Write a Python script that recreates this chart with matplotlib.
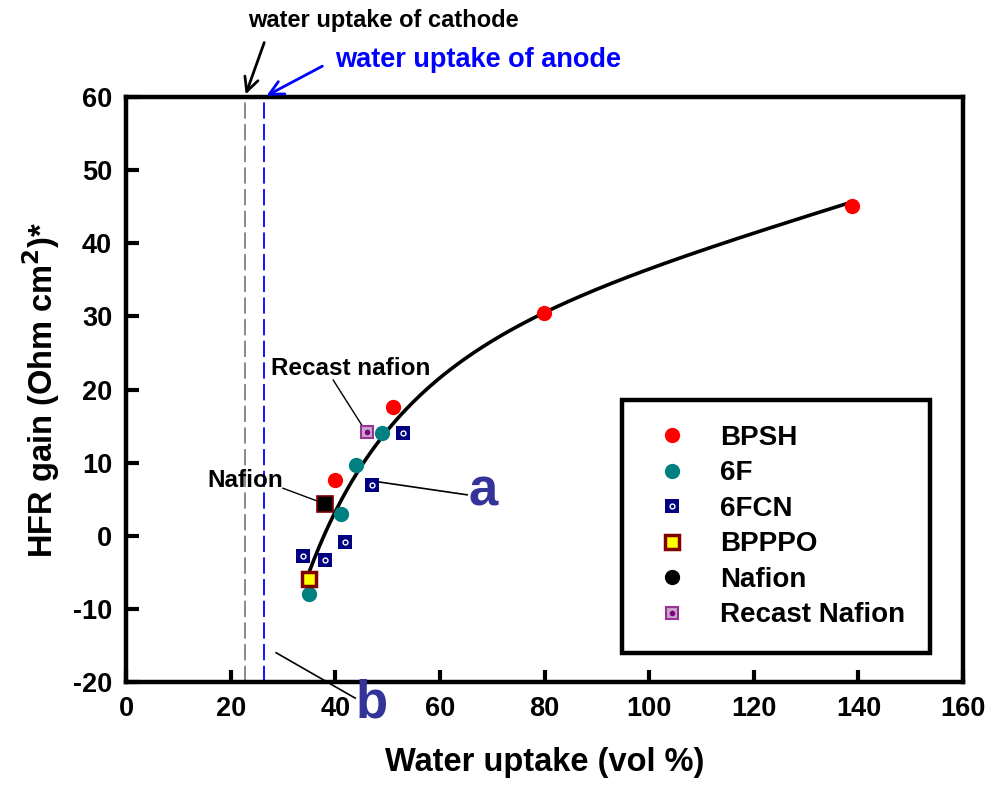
import matplotlib

matplotlib.use("Agg")
import matplotlib.pyplot as plt
import numpy as np
from matplotlib.lines import Line2D
from matplotlib.legend_handler import HandlerTuple

plt.rcParams["font.family"] = ["Liberation Sans", "DejaVu Sans"]
plt.rcParams["font.weight"] = "bold"
plt.rcParams["axes.unicode_minus"] = False

# data
bpsh_x = [51.0, 40.0, 79.9, 138.8]
bpsh_y = [17.6, 7.6, 30.5, 45.1]
f6_x = [48.9, 44.0, 41.1, 35.0]
f6_y = [14.1, 9.7, 3.0, -8.0]
f6cn_x = [53.0, 47.0, 41.9, 33.8, 38.0]
f6cn_y = [14.1, 6.9, -0.9, -2.8, -3.3]
bpppo_x = [35.0]
bpppo_y = [-5.9]
nafion_x = [38.0]
nafion_y = [4.3]
recast_x = [46.0]
recast_y = [14.2]

# trend curve
fit_x = [34.9, 38.4, 41.5, 44.7, 49.2, 52.4, 58.7, 65.1, 71.5, 77.9,
         80.4, 91.9, 104.6, 117.4, 130.1, 138.8]
fit_y = [-5.6, 1.3, 5.4, 9.5, 13.6, 16.5, 20.8, 24.3, 27.2, 29.5,
         30.4, 34.3, 38.0, 41.1, 43.9, 45.2]

cathode_uptake = 22.7
anode_uptake = 26.4

# smooth the sampled trend line with a cubic in log(x)
coef = np.polyfit(np.log(fit_x), fit_y, 3)
curve_x = np.linspace(min(fit_x), max(fit_x), 300)
curve_y = np.polyval(coef, np.log(curve_x))

fig = plt.figure(figsize=(9.86, 7.85), dpi=100)
ax = fig.add_axes([0.1278, 0.1312, 0.8489, 0.7452])

ax.axvline(cathode_uptake, color="gray", linestyle=(0, (9, 3)), linewidth=1.3, zorder=1)
ax.axvline(anode_uptake, color="blue", linestyle=(0, (9, 3)), linewidth=1.3, zorder=1)

ax.plot(curve_x, curve_y, color="black", linewidth=2.6, zorder=2)

ax.plot(bpsh_x, bpsh_y, "o", color="red", markersize=11, markeredgewidth=0, zorder=3)
ax.plot(f6_x, f6_y, "o", color="#008080", markersize=11, markeredgewidth=0, zorder=3)
ax.plot(f6cn_x, f6cn_y, "s", color="#000080", markersize=10, markeredgewidth=0, zorder=3)
ax.plot(f6cn_x, f6cn_y, "o", markerfacecolor="#000080", markeredgecolor="white",
        markersize=3.5, markeredgewidth=1, zorder=4)
ax.plot(bpppo_x, bpppo_y, "s", markerfacecolor="yellow", markeredgecolor="#800000",
        markersize=10, markeredgewidth=2.5, zorder=3)
ax.plot(nafion_x, nafion_y, "s", markerfacecolor="black", markeredgecolor="#800000",
        markersize=11, markeredgewidth=1.2, zorder=3)
ax.plot(recast_x, recast_y, "s", markerfacecolor="#c8a8c8", markeredgecolor="#993399",
        markersize=9, markeredgewidth=1.5, zorder=3)
ax.plot(recast_x, recast_y, "o", color="#800080", markersize=4, markeredgewidth=0, zorder=4)

ax.set_xlim(0, 160)
ax.set_ylim(-20, 60)
ax.set_xticks(range(0, 161, 20))
ax.set_yticks(range(-20, 61, 10))
ax.tick_params(direction="in", length=9, width=3, labelsize=19.5, pad=10)
for lab in ax.get_xticklabels() + ax.get_yticklabels():
    lab.set_fontweight("bold")
for sp in ax.spines.values():
    sp.set_linewidth(3.2)

ax.set_xlabel("Water uptake (vol %)", fontsize=23.5, fontweight="bold", labelpad=18)
ax.set_ylabel(r"HFR gain (Ohm cm$^\mathbf{2}$)*", fontsize=23.5, fontweight="bold", labelpad=8)

# annotations
ax.annotate("", xy=(cathode_uptake, 60), xytext=(26.6, 67.8),
            arrowprops=dict(arrowstyle="->", color="black", lw=2, mutation_scale=25),
            annotation_clip=False)
ax.text(23.3, 70.5, "water uptake of cathode", fontsize=17, fontweight="bold",
        va="center", ha="left", color="black", clip_on=False)
ax.annotate("", xy=(anode_uptake, 60), xytext=(38.0, 64.4),
            arrowprops=dict(arrowstyle="->", color="blue", lw=2, mutation_scale=25),
            annotation_clip=False)
ax.text(40.0, 65.1, "water uptake of anode", fontsize=19.5, fontweight="bold",
        va="center", ha="left", color="blue", clip_on=False)

ax.plot([39.6, 45.9], [21.3, 14.2], color="black", linewidth=1, zorder=2)
ax.text(43.0, 22.9, "Recast nafion", fontsize=17.5, fontweight="bold", ha="center", va="center")
ax.plot([30.0, 37.5], [6.5, 4.5], color="black", linewidth=1, zorder=2)
ax.text(22.7, 7.6, "Nafion", fontsize=17.5, fontweight="bold", ha="center", va="center")

ax.plot([47.0, 65.2], [7.5, 5.6], color="black", linewidth=1.2, zorder=2)
ax.text(68.2, 6.0, "a", fontsize=38, fontweight="bold", ha="center", va="center",
        color="#333399")
ax.plot([28.7, 43.8], [-16.0, -22.2], color="black", linewidth=1.2, clip_on=False)
ax.text(47.0, -22.9, "b", fontsize=38, fontweight="bold", ha="center", va="center",
        color="#333399", clip_on=False)

# legend
handles = [
    Line2D([], [], marker="o", linestyle="none", color="red", markersize=11, markeredgewidth=0),
    Line2D([], [], marker="o", linestyle="none", color="#008080", markersize=11, markeredgewidth=0),
    (Line2D([], [], marker="s", linestyle="none", color="#000080", markersize=10, markeredgewidth=0),
     Line2D([], [], marker="o", linestyle="none", markerfacecolor="#000080",
            markeredgecolor="white", markersize=3.5, markeredgewidth=1)),
    Line2D([], [], marker="s", linestyle="none", markerfacecolor="yellow",
           markeredgecolor="#800000", markersize=10, markeredgewidth=2.5),
    Line2D([], [], marker="o", linestyle="none", color="black", markersize=11, markeredgewidth=0),
    (Line2D([], [], marker="s", linestyle="none", markerfacecolor="#c8a8c8",
            markeredgecolor="#993399", markersize=9, markeredgewidth=1.5),
     Line2D([], [], marker="o", linestyle="none", color="#800080", markersize=4, markeredgewidth=0)),
]
labels = ["BPSH", "6F", "6FCN", "BPPPO", "Nafion", "Recast Nafion"]
leg = ax.legend(handles, labels, loc="upper left", bbox_to_anchor=(0.5926, 0.482),
                handler_map={tuple: HandlerTuple(ndivide=1)},
                prop={"size": 20, "weight": "bold"}, frameon=True, fancybox=False,
                edgecolor="black", borderpad=0.9, labelspacing=0.34, handlelength=1.8,
                handletextpad=0.83, borderaxespad=0)
leg.get_frame().set_linewidth(3.2)
leg.get_frame().set_alpha(1)

fig.savefig("out.png", dpi=100)
